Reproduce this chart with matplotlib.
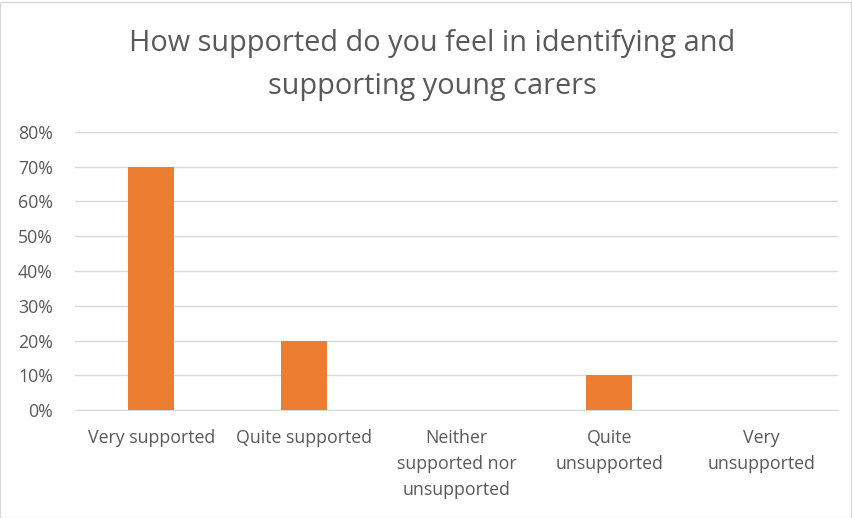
import matplotlib
import matplotlib.pyplot as plt
from matplotlib.patches import Rectangle
from matplotlib.ticker import PercentFormatter

matplotlib.use("Agg")

categories = [
    "Very supported",
    "Quite supported",
    "Neither\nsupported nor\nunsupported",
    "Quite\nunsupported",
    "Very\nunsupported",
]
shares = [0.70, 0.20, 0.0, 0.10, 0.0]
title = "How supported do you feel in identifying and\nsupporting young carers"

plt.rcParams["font.family"] = ["Open Sans", "DejaVu Sans"]

fig = plt.figure(figsize=(8.53, 5.18), dpi=100)
ax = fig.add_axes([75 / 853, 1 - 410 / 518, 763 / 853, 278 / 518])

x = range(len(categories))
ax.bar(x, shares, width=0.30, color="#ED7D31", zorder=3)

ax.set_xlim(-0.5, len(categories) - 0.5)
ax.set_ylim(0, 0.8)
ax.set_yticks([i / 10 for i in range(9)])
ax.yaxis.set_major_formatter(PercentFormatter(1.0, decimals=0))
ax.set_xticks(list(x))
ax.set_xticklabels(categories, linespacing=1.55)
ax.tick_params(axis="both", length=0, labelsize=12.8, colors="#595959")
ax.tick_params(axis="x", pad=14)
ax.tick_params(axis="y", pad=16)

ax.grid(axis="y", color="#d9d9d9", linewidth=1, zorder=0)
for side in ["top", "right", "left"]:
    ax.spines[side].set_visible(False)
ax.spines["bottom"].set_color("#d9d9d9")

fig.text(0.507, 1 - 65 / 518, title, ha="center", va="center",
         fontsize=20.8, color="#595959", linespacing=1.6)

fig.patches.append(Rectangle((0.5 / 853, 0.5 / 518), 851 / 853, 516 / 518,
                             transform=fig.transFigure, fill=False,
                             edgecolor="#d9d9d9", linewidth=1))

fig.savefig("out.png", dpi=100)
